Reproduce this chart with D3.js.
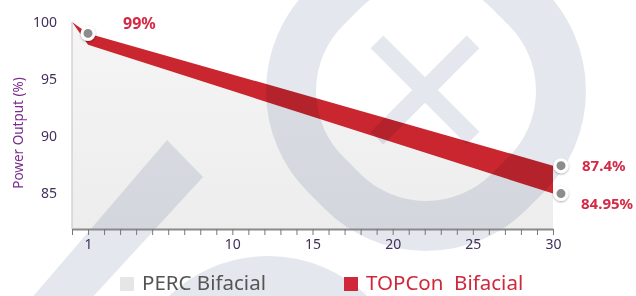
<!DOCTYPE html>
<html>
<head>
<meta charset="utf-8">
<script src="https://cdn.jsdelivr.net/npm/d3@7"></script>
<style>
  body { margin: 0; background: #fff; }
  svg { display: block; font-family: "Noto Sans", "Open Sans", sans-serif; }
</style>
</head>
<body>
<svg id="chart" width="636" height="296"></svg>
<script>
// data
const years = [0, 1, 30];
const topcon = [100, 99, 87.4];
const perc = [100, 98, 84.95];
const xTickLabels = [1, 10, 15, 20, 25, 30];
const yTickLabels = [85, 90, 95, 100];
const seriesNames = ["PERC Bifacial", "TOPCon  Bifacial"];
const pointLabels = ["99%", "87.4%", "84.95%"];

const svg = d3.select('#chart');
const x = d3.scaleLinear().domain([0, 30]).range([72, 553]);
const y = d3.scaleLinear().domain([85, 100]).range([193, 22]);
const axisY = 229;

svg.append('rect').attr('width', 636).attr('height', 296).attr('fill', '#fff');

const defs = svg.append('defs');
const grad = defs.append('linearGradient').attr('id', 'percFill')
  .attr('x1', 0).attr('y1', 0).attr('x2', 0).attr('y2', 1);
grad.append('stop').attr('offset', '0%').attr('stop-color', '#f5f5f5');
grad.append('stop').attr('offset', '100%').attr('stop-color', '#ededed');
const shadow = defs.append('filter').attr('id', 'shadow')
  .attr('x', '-50%').attr('y', '-50%').attr('width', '200%').attr('height', '200%');
shadow.append('feDropShadow').attr('dx', 0).attr('dy', 1).attr('stdDeviation', 1.2)
  .attr('flood-color', '#000').attr('flood-opacity', 0.35);

const rows = years.map((yr, i) => ({ year: yr, top: topcon[i], perc: perc[i] }));

// PERC area
svg.append('path')
  .datum(rows)
  .attr('fill', 'url(#percFill)')
  .attr('d', d3.area().x(d => x(d.year)).y0(axisY).y1(d => y(d.perc)));

// TOPCon gain band
svg.append('path')
  .datum(rows)
  .attr('fill', '#c9262f')
  .attr('d', d3.area().x(d => x(d.year)).y0(d => y(d.perc)).y1(d => y(d.top)));

// left edge line
svg.append('line')
  .attr('x1', x(0)).attr('x2', x(0))
  .attr('y1', y(100)).attr('y2', axisY)
  .attr('stroke', '#cfc6c9').attr('stroke-width', 1.2);

// watermark
const wm = svg.append('g').style('mix-blend-mode', 'multiply')
  .attr('fill', 'none').attr('stroke', '#e4e7ee');
function ring(cx, cy) {
  wm.append('rect')
    .attr('x', -130).attr('y', -130).attr('width', 260).attr('height', 260)
    .attr('rx', 118)
    .attr('stroke-width', 50)
    .attr('transform', `translate(${cx},${cy}) rotate(45)`);
}
ring(426, 91);
ring(268, 416);
wm.append('g').attr('transform', 'translate(425,90) rotate(45)')
  .selectAll('rect').data([0, 90]).join('rect')
  .attr('x', -68).attr('y', -9).attr('width', 136).attr('height', 18)
  .attr('transform', d => `rotate(${d})`)
  .attr('fill', '#e4e7ee').attr('stroke', 'none');
wm.append('path')
  .attr('d', 'M167,140 L203,177 L90,300 L30,300 Z')
  .attr('fill', '#e4e7ee').attr('stroke', 'none');

// x axis: minor ticks every year
svg.append('g')
  .attr('transform', `translate(0,${axisY})`)
  .call(d3.axisBottom(x).tickValues(d3.range(0, 31)).tickSize(6).tickFormat('').tickSizeOuter(0))
  .call(g => g.select('.domain').attr('stroke', '#8a8a8a').attr('stroke-width', 2))
  .call(g => g.selectAll('.tick line').attr('stroke', '#777').attr('stroke-width', 1));

svg.append('g')
  .attr('transform', `translate(0,${axisY})`)
  .call(d3.axisBottom(x).tickValues(xTickLabels).tickSize(0).tickPadding(10))
  .call(g => g.select('.domain').remove())
  .call(g => g.selectAll('text')
    .attr('font-family', '"Noto Sans", sans-serif')
    .attr('font-size', 14).attr('fill', '#42305a'));

// y axis labels
svg.append('g')
  .attr('transform', 'translate(60,0)')
  .call(d3.axisLeft(y).tickValues(yTickLabels).tickSize(0).tickPadding(3))
  .call(g => g.select('.domain').remove())
  .call(g => g.selectAll('text')
    .attr('font-family', '"Noto Sans", sans-serif')
    .attr('font-size', 14).attr('fill', '#42305a'));

svg.append('text')
  .attr('transform', 'translate(23,133) rotate(-90)')
  .attr('text-anchor', 'middle')
  .attr('font-size', 13.5)
  .attr('fill', '#7a2d8c')
  .text('Power Output (%)');

// point markers
const points = [
  { year: years[1], value: topcon[1], label: pointLabels[0], dx: 0, lx: 35, ly: -10, size: 16 },
  { year: years[2], value: topcon[2], label: pointLabels[1], dx: 8, lx: 21, ly: 0, size: 15 },
  { year: years[2], value: perc[2], label: pointLabels[2], dx: 8, lx: 20, ly: 10, size: 15 }
];
const pg = svg.append('g').selectAll('g').data(points).join('g')
  .attr('transform', d => `translate(${x(d.year) + d.dx},${y(d.value)})`);
pg.append('circle')
  .attr('r', 6)
  .attr('fill', '#8c8c8c')
  .attr('stroke', '#fff').attr('stroke-width', 3)
  .attr('filter', 'url(#shadow)');
pg.append('text')
  .attr('x', d => d.lx).attr('y', d => d.ly)
  .attr('dy', '0.35em')
  .attr('font-size', d => d.size).attr('font-weight', 'bold')
  .attr('fill', '#d42a45')
  .text(d => d.label);

// legend
const legendColors = ['#e6e6e6', '#d0283a'];
const legendTextColors = ['#555', '#d0283a'];
const legendX = [120, 344];
const lg = svg.append('g').selectAll('g').data(seriesNames).join('g')
  .attr('transform', (d, i) => `translate(${legendX[i]},0)`);
lg.append('rect')
  .attr('x', 0).attr('y', 277).attr('width', 14).attr('height', 14)
  .attr('fill', (d, i) => legendColors[i]);
lg.append('text')
  .attr('x', 22).attr('y', 290)
  .attr('font-size', 20.5)
  .attr('fill', (d, i) => legendTextColors[i])
  .style('white-space', 'pre')
  .text(d => d);
</script>
</body>
</html>
